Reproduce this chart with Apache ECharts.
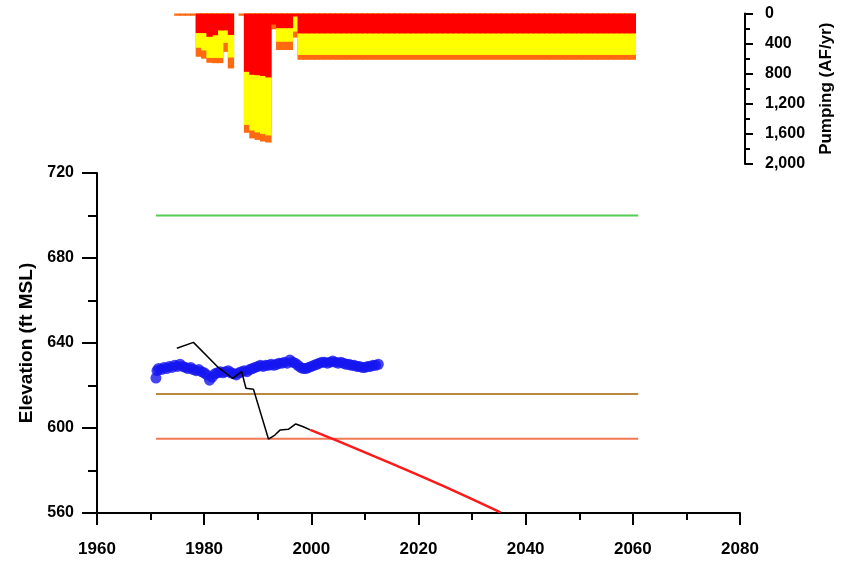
<!DOCTYPE html>
<html><head><meta charset="utf-8">
<script src="https://cdn.jsdelivr.net/npm/echarts@6/dist/echarts.min.js"></script>
<style>html,body{margin:0;padding:0;background:#fff}#c{width:845px;height:564px}</style>
</head><body><div id="c"></div>
<script>
// ---- Pumping (AF/yr), by component ----
const pumpYears = [1975,1976,1977,1978,1979,1980,1981,1982,1983,1984,1985,1986,1987,1988,1989,1990,1991,1992,1993,1994,1995,1996,1997,
  1998,1999,2000,2001,2002,2003,2004,2005,2006,2007,2008,2009,2010,2011,2012,2013,2014,2015,2016,2017,2018,2019,2020,
  2021,2022,2023,2024,2025,2026,2027,2028,2029,2030,2031,2032,2033,2034,2035,2036,2037,2038,2039,2040,2041,2042,2043,
  2044,2045,2046,2047,2048,2049,2050,2051,2052,2053,2054,2055,2056,2057,2058,2059,2060];
const pumpRed = [0,0,0,0,260,260,310,290,225,225,285,0,0,775,815,820,830,850,150,195,195,195,40,
  265,265,265,265,265,265,265,265,265,265,265,265,265,265,265,265,265,265,265,265,265,265,265,
  265,265,265,265,265,265,265,265,265,265,265,265,265,265,265,265,265,265,265,265,265,265,265,
  265,265,265,265,265,265,265,265,265,265,265,265,265,265,265,265,265];
const pumpYellow = [0,0,0,0,195,230,280,300,365,165,300,0,0,705,740,760,770,770,0,180,180,180,200,
  285,285,285,285,285,285,285,285,285,285,285,285,285,285,285,285,285,285,285,285,285,285,285,
  285,285,285,285,285,285,285,285,285,285,285,285,285,285,285,285,285,285,285,285,285,285,285,
  285,285,285,285,285,285,285,285,285,285,285,285,285,285,285,285,285];
const pumpOrange = [30,30,30,30,120,110,65,70,70,120,145,0,30,105,105,100,100,95,60,110,110,110,80,
  65,65,65,65,65,65,65,65,65,65,65,65,65,65,65,65,65,65,65,65,65,65,65,
  65,65,65,65,65,65,65,65,65,65,65,65,65,65,65,65,65,65,65,65,65,65,65,
  65,65,65,65,65,65,65,65,65,65,65,65,65,65,65,65,65];
const pumpTicks = [0,400,800,1200,1600,2000];

// ---- Elevation (ft MSL) ----
const refLineYears = [1971, 2061];
const greenLevel = 700;
const brownLevel = 616;
const salmonLevel = 595;

const obsYears = [1971.0,1971.2,1971.5,1972.0,1972.5,1973.0,1973.5,1974.0,1974.5,1975.0,1975.5,1976.0,1976.5,1977.0,1977.5,
  1978.0,1978.5,1979.0,1979.5,1980.0,1980.5,1981.0,1981.5,1982.0,1982.5,1983.0,1983.5,1984.0,1984.5,1985.0,1985.5,
  1986.0,1986.5,1987.0,1987.5,1988.0,1988.5,1989.0,1989.5,1990.0,1990.5,1991.0,1991.5,1992.0,1992.5,1993.0,1993.5,
  1994.0,1994.5,1995.0,1995.5,1996.0,1996.5,1997.0,1997.5,1998.0,1998.5,1999.0,1999.5,2000.0,2000.5,2001.0,2001.5,
  2002.0,2002.5,2003.0,2003.5,2004.0,2004.5,2005.0,2005.5,2006.0,2006.5,2007.0,2007.5,2008.0,2008.5,2009.0,2009.5,
  2010.0,2010.5,2011.0,2011.5,2012.0,2012.5];
const obsElev = [623.5,627,628,627.5,628.5,628,629,628.5,629.5,629,630,629,628.5,628,628.5,
  627.5,627,627.5,626.5,626,625,622.5,624,625.5,626,626.5,626,626.5,627,626,625.5,
  625,626,626.5,627,626.5,627.5,628,628.5,629,629.5,629,629.5,629.5,630,629.5,630,
  630.5,630.5,631,630.5,632,631,630.5,629.5,628.5,628,628,628.5,629,629.5,630,630.5,
  631,631,630.5,631,631.5,631,630.5,631,630.5,630,630,629.5,629.5,629,629,628.5,
  628.5,629,629,629.5,629.5,630];

const histYears = [1974.9,1978.0,1982.5,1985.3,1987.0,1987.8,1989.2,1992.0,1993.2,1994.2,1995.7,1997.1,1998.5,1999.8];
const histElev  = [637.5,640.3,628.8,623.4,626.5,618.7,618.2,594.8,596.7,599.1,599.4,601.9,600.6,599.1];

const projYears = [1999.8,2005,2010,2015,2020,2025,2030,2035.3];
const projElev  = [599.1,593.8,588.5,583.2,577.8,572.3,566.5,560.3];

const xTicks = [1960,1980,2000,2020,2040,2060,2080];
const elevTicks = [560,600,640,680,720];

const font = 'Liberation Sans';
const zip = (a, b) => a.map((v, i) => [v, b[i]]);
// cumulative depths of each component (drawn from 0 downward, overlapped)
const cumRed = pumpRed.slice();
const cumYellow = pumpRed.map((v, i) => v + pumpYellow[i]);
const cumOrange = pumpRed.map((v, i) => v + pumpYellow[i] + pumpOrange[i]);

const barBase = {type: 'bar', xAxisIndex: 0, yAxisIndex: 0, barWidth: 6.3, barGap: '-100%'};

const chart = echarts.init(document.getElementById('c'), null, {renderer: 'canvas'});
chart.setOption({
  animation: false,
  backgroundColor: '#fff',
  grid: [
    {left: 97, top: 13.5, width: 643, height: 150.5},
    {left: 97, top: 173, width: 643, height: 340}
  ],
  xAxis: [
    {gridIndex: 0, type: 'value', min: xTicks[0], max: xTicks[xTicks.length-1], show: false},
    {gridIndex: 1, type: 'value', min: xTicks[0], max: xTicks[xTicks.length-1], interval: 20,
     axisLine: {show: true, onZero: false, lineStyle: {color: '#000', width: 2}},
     axisTick: {show: true, length: 12, lineStyle: {color: '#000', width: 2}},
     minorTick: {show: true, splitNumber: 2, length: 7, lineStyle: {color: '#000', width: 2}},
     splitLine: {show: false},
     axisLabel: {margin: 28, color: '#000', fontFamily: font, fontWeight: 'bold', fontSize: 17,
       formatter: v => String(v)}}
  ],
  yAxis: [
    {gridIndex: 0, type: 'value', position: 'right', inverse: true, offset: 5,
     min: pumpTicks[0], max: pumpTicks[pumpTicks.length-1], interval: 400,
     name: 'Pumping (AF/yr)', nameLocation: 'middle', nameRotate: 90, nameGap: 73,
     nameTextStyle: {color: '#000', fontFamily: font, fontWeight: 'bold', fontSize: 17},
     axisLine: {show: true, lineStyle: {color: '#000', width: 2}},
     axisTick: {show: true, length: 8, lineStyle: {color: '#000', width: 2}},
     minorTick: {show: true, splitNumber: 2, length: 5, lineStyle: {color: '#000', width: 2}},
     splitLine: {show: false},
     axisLabel: {margin: 20, color: '#000', fontFamily: font, fontWeight: 'bold', fontSize: 16,
       formatter: v => v.toLocaleString('en-US')}},
    {gridIndex: 1, type: 'value', min: elevTicks[0], max: elevTicks[elevTicks.length-1], interval: 40,
     name: 'Elevation (ft MSL)', nameLocation: 'middle', nameRotate: 90, nameGap: 52,
     nameTextStyle: {color: '#000', fontFamily: font, fontWeight: 'bold', fontSize: 19},
     axisLine: {show: true, onZero: false, lineStyle: {color: '#000', width: 2}},
     axisTick: {show: true, length: 15, lineStyle: {color: '#000', width: 2}},
     minorTick: {show: true, splitNumber: 2, length: 9, lineStyle: {color: '#000', width: 2}},
     splitLine: {show: false},
     axisLabel: {margin: 23, color: '#000', fontFamily: font, fontWeight: 'bold', fontSize: 16}}
  ],
  series: [
    Object.assign({}, barBase, {data: zip(pumpYears, cumOrange), itemStyle: {color: '#ff6a10'}}),
    Object.assign({}, barBase, {data: zip(pumpYears, cumYellow), itemStyle: {color: '#ffff00'}}),
    Object.assign({}, barBase, {data: zip(pumpYears, cumRed), itemStyle: {color: '#ff0000'}}),
    {type: 'line', xAxisIndex: 1, yAxisIndex: 1, showSymbol: false, data: refLineYears.map(y => [y, greenLevel]),
     lineStyle: {color: '#55cc55', width: 2}},
    {type: 'line', xAxisIndex: 1, yAxisIndex: 1, showSymbol: false, data: refLineYears.map(y => [y, brownLevel]),
     lineStyle: {color: '#b8893e', width: 2}},
    {type: 'line', xAxisIndex: 1, yAxisIndex: 1, showSymbol: false, data: refLineYears.map(y => [y, salmonLevel]),
     lineStyle: {color: '#f07a55', width: 2}},
    {type: 'scatter', xAxisIndex: 1, yAxisIndex: 1, symbolSize: 11, data: zip(obsYears, obsElev),
     itemStyle: {color: '#1515f0'}},
    {type: 'line', xAxisIndex: 1, yAxisIndex: 1, showSymbol: false, data: zip(histYears, histElev),
     lineStyle: {color: '#000', width: 1.5}},
    {type: 'line', xAxisIndex: 1, yAxisIndex: 1, showSymbol: false, data: zip(projYears, projElev),
     lineStyle: {color: '#ff1a1a', width: 2.5}}
  ]
});
</script></body></html>
